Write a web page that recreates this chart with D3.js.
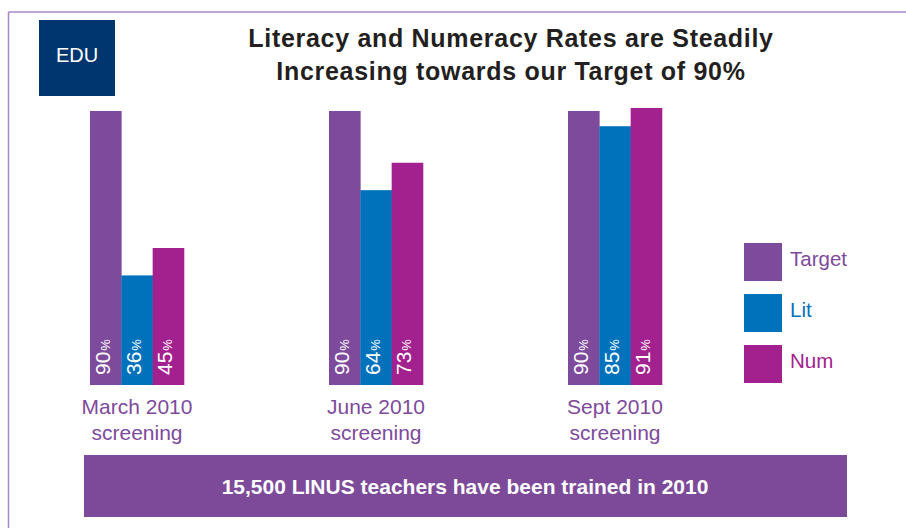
<!DOCTYPE html>
<html>
<head>
<meta charset="utf-8">
<script src="https://cdn.jsdelivr.net/npm/d3@7"></script>
<style>
  html, body { margin: 0; padding: 0; background: #fff; }
  svg { display: block; font-family: "Liberation Sans", Arial, Helvetica, sans-serif; }
</style>
</head>
<body>
<svg id="chart" width="906" height="528"></svg>
<script>
// Screening rounds and the three measured series (percent)
const categories = ["March 2010", "June 2010", "Sept 2010"];
const seriesNames = ["Target", "Lit", "Num"];
const targetValues = [90, 90, 90];
const litValues = [36, 64, 85];
const numValues = [45, 73, 91];
const seriesColors = ["#7e4a9c", "#0072bc", "#a3218e"];

const titleLines = [
  "Literacy and Numeracy Rates are Steadily",
  "Increasing towards our Target of 90%"
];
const bannerText = "15,500 LINUS teachers have been trained in 2010";

const valuesBySeries = [targetValues, litValues, numValues];
const rows = categories.map((c, i) => ({
  category: c,
  values: seriesNames.map((s, j) => ({ series: s, value: valuesBySeries[j][i], color: seriesColors[j] }))
}));

const svg = d3.select("#chart");

// Frame lines (top and left)
svg.append("line").attr("x1", 8.5).attr("x2", 906).attr("y1", 12).attr("y2", 12)
  .attr("stroke", "#a987c4").attr("stroke-width", 1.5);
svg.append("line").attr("x1", 8.5).attr("x2", 8.5).attr("y1", 12).attr("y2", 528)
  .attr("stroke", "#a987c4").attr("stroke-width", 1.5);

// EDU badge
svg.append("rect").attr("x", 39).attr("y", 20).attr("width", 76).attr("height", 76).attr("fill", "#00366f");
svg.append("text").attr("x", 77).attr("y", 62).attr("text-anchor", "middle")
  .attr("fill", "#fff").attr("font-size", 20).text("EDU");

// Title
svg.append("g").selectAll("text").data(titleLines).join("text")
  .attr("x", 511).attr("y", (d, i) => 47 + i * 33)
  .attr("text-anchor", "middle").attr("font-weight", "bold").attr("font-size", 25)
  .attr("letter-spacing", 0.7)
  .attr("fill", "#231f20").text(d => d);

// Scales
const x0 = d3.scaleBand().domain(categories).range([90, 662]).paddingInner(0.6067).paddingOuter(0);
const x1 = d3.scaleBand().domain(seriesNames).range([0, x0.bandwidth()]).padding(0);
const y = d3.scaleLinear().domain([0, 90]).range([385, 111]);

const groups = svg.append("g").selectAll("g").data(rows).join("g")
  .attr("transform", d => `translate(${x0(d.category)},0)`);

groups.selectAll("rect").data(d => d.values).join("rect")
  .attr("x", d => x1(d.series))
  .attr("y", d => y(d.value))
  .attr("width", x1.bandwidth() + 0.3)
  .attr("height", d => y(0) - y(d.value))
  .attr("fill", d => d.color);

// Rotated value labels inside each bar
const lbl = groups.selectAll("text.val").data(d => d.values).join("text")
  .attr("class", "val")
  .attr("transform", d => `translate(${x1(d.series) + x1.bandwidth() / 2 + 4},${y(0) - 10}) rotate(-90)`)
  .attr("fill", "#fff");
lbl.append("tspan").attr("font-size", 21).text(d => d.value);
lbl.append("tspan").attr("font-size", 13).attr("dx", 1).text("%");

// Category labels
const catLbl = svg.append("g").selectAll("text").data(categories).join("text")
  .attr("x", d => x0(d) + x0.bandwidth() / 2)
  .attr("text-anchor", "middle").attr("font-size", 21).attr("fill", "#7e4a9c");
catLbl.append("tspan").attr("y", 414).text(d => d);
catLbl.append("tspan").attr("x", d => x0(d) + x0.bandwidth() / 2).attr("y", 440).text("screening");

// Legend
const legend = svg.append("g").selectAll("g").data(seriesNames).join("g")
  .attr("transform", (d, i) => `translate(744,${243 + i * 51})`);
legend.append("rect").attr("width", 38).attr("height", 38).attr("fill", (d, i) => seriesColors[i]);
legend.append("text").attr("x", 46).attr("y", 23).attr("font-size", 20.5)
  .attr("fill", (d, i) => seriesColors[i]).text(d => d);

// Bottom banner
svg.append("rect").attr("x", 84).attr("y", 455).attr("width", 763).attr("height", 62).attr("fill", "#7d4a9a");
svg.append("text").attr("x", 465).attr("y", 494).attr("text-anchor", "middle")
  .attr("font-weight", "bold").attr("font-size", 21).attr("fill", "#fff").text(bannerText);
</script>
</body>
</html>
